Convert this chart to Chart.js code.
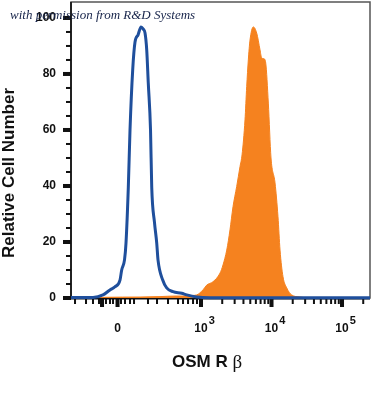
<!DOCTYPE html>
<html lang="en">
<head>
  <meta charset="UTF-8" />
  <title>OSM R beta histogram</title>
  <script src="https://cdn.jsdelivr.net/npm/chart.js"></script>
  <style>
    body { margin: 0; background: #fff; }
    #wrap { width: 371px; height: 393px; }
  </style>
</head>
<body>
  <div id="wrap"><canvas id="histChart" width="371" height="393"></canvas></div>
  <script>
    // x values are logicle display units: 10^3 -> 3, 10^4 -> 4, 10^5 -> 5
    const isotypeX = [1.156, 1.426, 1.468, 1.610, 1.709, 1.780, 1.851, 1.875, 1.915, 1.936, 1.969, 1.993, 2.031, 2.064, 2.106, 2.149, 2.181, 2.206, 2.230, 2.252, 2.284, 2.301, 2.340, 2.372, 2.390, 2.457, 2.513, 2.603, 2.726, 2.797, 2.939, 3.128, 3.6, 4.5, 5.397];
    const isotypeY = [0.2, 0.2, 0.2, 1.1, 2.9, 4.0, 6.4, 10, 13.6, 19.6, 39.6, 60, 81.4, 91.4, 93.9, 96.8, 96, 94.6, 88.6, 76.8, 60, 39.6, 27, 19.6, 13.6, 6.4, 3.6, 2.25, 1.7, 1.1, 0.36, 0.1, 0.1, 0.1, 0.1];
    const osmX = [1.156, 1.497, 1.638, 2.135, 2.418, 2.631, 2.773, 2.872, 2.939, 3.028, 3.081, 3.170, 3.270, 3.312, 3.365, 3.411, 3.454, 3.506, 3.553, 3.582, 3.624, 3.648, 3.671, 3.695, 3.742, 3.790, 3.837, 3.861, 3.894, 3.918, 3.955, 3.993, 4.050, 4.092, 4.121, 4.163, 4.216, 4.286, 4.404, 4.546, 5.397];
    const osmY = [0, 0, 0.25, 0.35, 0.5, 0.7, 0.7, 0.9, 1.1, 2.9, 4.6, 5.8, 8.9, 11.8, 17.1, 24.3, 32.6, 39.8, 46.9, 51.1, 63.6, 75.5, 85, 92.1, 96.8, 94.6, 88.6, 85.7, 85.4, 83.9, 69.6, 50, 41.1, 29, 17.1, 7.6, 3.6, 1.1, 0.36, 0, 0];

    const yTicks = [0, 20, 40, 60, 80, 100];
    const xLabelPos = [1.816, 3, 4, 5];
    const xLabelBase = ['0', '10', '10', '10'];
    const xLabelExp = ['', '3', '4', '5'];
    const xMajorTicks = [1.596, 1.816, 3, 4, 5];
    const xMinorLow = [1.213, 1.369, 1.468, 1.553, 1.652, 1.709, 1.752, 1.865, 1.922, 1.993, 2.050, 2.248, 2.376, 2.532, 2.674, 2.745, 2.816, 2.887, 2.943];

    // log minor ticks for the upper decades
    const xMinorTicks = xMinorLow.slice();
    [3, 4].forEach(d => { for (let k = 2; k <= 9; k++) xMinorTicks.push(d + Math.log10(k)); });
    xMinorTicks.push(5 + Math.log10(2));

    const sans = "'Liberation Sans', Arial, sans-serif";

    const axisPlugin = {
      id: 'axisPlugin',
      beforeDatasetsDraw(chart) {
        const { ctx, chartArea: a, scales: { x, y } } = chart;
        ctx.save();
        // frame
        ctx.strokeStyle = '#555';
        ctx.lineWidth = 1.5;
        ctx.strokeRect(a.left, a.top, a.right - a.left, a.bottom - a.top);
        // left axis
        ctx.fillStyle = '#222';
        ctx.fillRect(a.left - 1, a.top, 2, a.bottom - a.top + 1);
        // y ticks
        for (let v = 0; v <= 100; v += 5) {
          const py = y.getPixelForValue(v);
          ctx.fillStyle = '#111';
          if (v % 20 === 0) ctx.fillRect(a.left - 8, py - 2, 8, 4);
          else ctx.fillRect(a.left - 5, py - 1, 5, 2);
        }
        // bottom axis
        ctx.fillStyle = '#111';
        ctx.fillRect(a.left - 8, a.bottom - 1, a.right - a.left + 8, 2.5);
        xMinorTicks.forEach(v => {
          const px = x.getPixelForValue(v);
          ctx.fillRect(px - 1, a.bottom, 2, 6);
        });
        xMajorTicks.forEach(v => {
          const px = x.getPixelForValue(v);
          ctx.fillRect(px - 2, a.bottom, 4, 9);
        });
        ctx.restore();
      },
      afterDraw(chart) {
        const { ctx, chartArea: a, scales: { x } } = chart;
        ctx.save();
        ctx.fillStyle = '#111';
        ctx.textBaseline = 'middle';
        // x tick labels with superscripts
        xLabelPos.forEach((v, i) => {
          const px = x.getPixelForValue(v);
          ctx.font = 'bold 12px ' + sans;
          ctx.textAlign = 'center';
          ctx.fillText(xLabelBase[i], px, 329);
          if (xLabelExp[i]) {
            const w = ctx.measureText(xLabelBase[i]).width;
            ctx.font = 'bold 11px ' + sans;
            ctx.textAlign = 'left';
            ctx.fillText(xLabelExp[i], px + w / 2 + 1, 321);
          }
        });
        // x title: bold text plus serif beta
        ctx.font = 'bold 17px ' + sans;
        const part = 'OSM R ';
        const w1 = ctx.measureText(part).width;
        ctx.font = "19px 'Liberation Serif', serif";
        const w2 = ctx.measureText('\u03b2').width;
        let sx = 207 - (w1 + w2) / 2;
        ctx.textAlign = 'left';
        ctx.font = 'bold 17px ' + sans;
        ctx.fillText(part, sx, 362);
        ctx.font = "19px 'Liberation Serif', serif";
        ctx.fillText('\u03b2', sx + w1, 363);
        // y title
        ctx.save();
        ctx.translate(9, 173);
        ctx.rotate(-Math.PI / 2);
        ctx.textAlign = 'center';
        ctx.font = 'bold 17px ' + sans;
        ctx.fillText('Relative Cell Number', 0, 0);
        ctx.restore();
        // watermark
        ctx.fillStyle = '#17244a';
        ctx.textAlign = 'left';
        ctx.font = "italic 13px 'Liberation Serif', serif";
        ctx.fillText('with permission from R&D Systems', 10, 16);
        ctx.restore();
      }
    };

    new Chart(document.getElementById('histChart'), {
      type: 'scatter',
      data: {
        datasets: [
          {
            label: 'Isotype',
            data: isotypeX.map((v, i) => ({ x: v, y: isotypeY[i] })),
            showLine: true,
            borderColor: '#1f4f9c',
            borderWidth: 3,
            pointRadius: 0,
            fill: false,
            cubicInterpolationMode: 'monotone',
            clip: 5,
            order: 0
          },
          {
            label: 'OSM R beta',
            data: osmX.map((v, i) => ({ x: v, y: osmY[i] })),
            showLine: true,
            borderColor: '#f5821f',
            backgroundColor: '#f5821f',
            borderWidth: 1,
            pointRadius: 0,
            fill: 'origin',
            cubicInterpolationMode: 'monotone',
            order: 1
          }
        ]
      },
      options: {
        responsive: false,
        animation: false,
        devicePixelRatio: 1,
        layout: { padding: { top: 2, right: 1, left: 0, bottom: 0 } },
        plugins: { legend: { display: false }, tooltip: { enabled: false } },
        scales: {
          x: {
            type: 'linear',
            min: 1.156,
            max: 5.397,
            grid: { display: false, drawTicks: false },
            border: { display: false },
            ticks: { display: false },
            afterFit(scale) { scale.height = 95; scale.paddingLeft = 0; scale.paddingRight = 0; }
          },
          y: {
            min: 0,
            max: 105.7,
            grid: { display: false, drawTicks: false, tickLength: 0 },
            border: { display: false },
            afterBuildTicks(scale) { scale.ticks = yTicks.map(v => ({ value: v })); },
            ticks: {
              padding: 15,
              color: '#111',
              font: { family: sans, weight: 'bold', size: 12 }
            },
            afterFit(scale) { scale.width = 71; scale.paddingTop = 0; scale.paddingBottom = 0; }
          }
        }
      },
      plugins: [axisPlugin]
    });
  </script>
</body>
</html>
